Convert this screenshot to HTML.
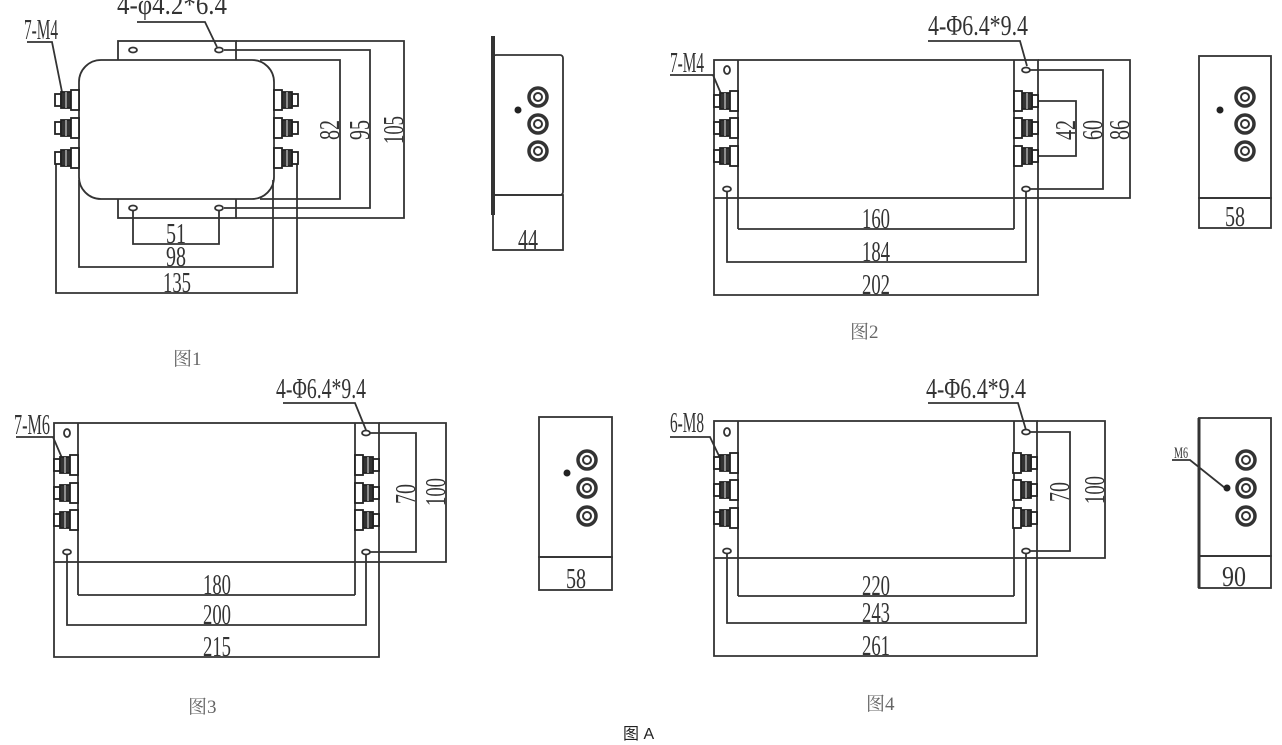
<!DOCTYPE html>
<html><head><meta charset="utf-8"><style>
html,body{margin:0;padding:0;background:#fff}
svg{display:block}
.d{font-family:"Liberation Serif","Noto Serif CJK SC",serif;font-size:28px;fill:#333}
.c{font-family:"Liberation Serif","Noto Serif CJK SC",serif;font-size:19px;fill:#666}
</style></head><body>
<svg width="1282" height="745" viewBox="0 0 1282 745" xmlns="http://www.w3.org/2000/svg">
<defs>
<g id="tl" fill="none" stroke="#222" stroke-width="1.8">
<rect x="0" y="-6" width="6" height="12" fill="#fff"/>
<rect x="6" y="-8" width="10" height="16" fill="#333"/>
<rect x="16" y="-10" width="8" height="20" fill="#fff"/>
<line x1="11" y1="-8" x2="11" y2="8" stroke="#999"/>
</g>
<g id="tr"><use href="#tl" transform="scale(-1,1)"/></g>
<g id="ring"><circle r="9" fill="none" stroke="#333" stroke-width="3.5"/><circle r="4" fill="none" stroke="#333" stroke-width="2"/></g>
</defs>
<g fill="none" stroke="#333" stroke-width="1.8">
<rect x="118" y="41" width="118" height="177" fill="#fff"/>
<rect x="79" y="60" width="195" height="139" rx="22" fill="#fff"/>
<ellipse cx="133" cy="50" rx="4" ry="2.5"/><ellipse cx="219" cy="50" rx="4" ry="2.5"/>
<ellipse cx="133" cy="208" rx="4" ry="2.5"/><ellipse cx="219" cy="208" rx="4" ry="2.5"/>
<path d="M236 41H404V218H236"/>
<path d="M224 50H370V208H224"/>
<path d="M260 60H340V199H260"/>
<path d="M133 210V244H219V210"/>
<path d="M79 180V267H273V180"/>
<path d="M56 160V293H297V160"/>
<path d="M137 22H205L217 47"/>
<path d="M27 42H52L62 92"/>
<rect x="493" y="55" width="70" height="140" rx="3"/>
<rect x="493" y="195" width="70" height="55"/>
<line x1="493" y1="36" x2="493" y2="215" stroke-width="4"/>
<rect x="714" y="60" width="324" height="138"/>
<line x1="738" y1="60" x2="738" y2="229"/><line x1="1014" y1="60" x2="1014" y2="229"/>
<path d="M738 229H1014"/>
<path d="M727 191V262H1026V191"/>
<path d="M714 198V295H1038V198"/>
<path d="M1038 60H1130V198H1038"/>
<path d="M1030 70H1103V189H1030"/>
<path d="M1036 101H1076V156H1036"/>
<ellipse cx="727" cy="70" rx="3" ry="4"/><ellipse cx="1026" cy="70" rx="4" ry="2.5"/>
<ellipse cx="727" cy="189" rx="4" ry="2.5"/><ellipse cx="1026" cy="189" rx="4" ry="2.5"/>
<path d="M928 41H1020L1027 66"/>
<path d="M670 75H713L722 96"/>
<rect x="1199" y="56" width="72" height="142"/>
<rect x="1199" y="198" width="72" height="30"/>
<rect x="54" y="423" width="325" height="139"/>
<line x1="78" y1="423" x2="78" y2="595"/><line x1="355" y1="423" x2="355" y2="595"/>
<path d="M78 595H355"/>
<path d="M67 554V625H366V554"/>
<path d="M54 562V657H379V562"/>
<path d="M379 423H446V562H379"/>
<path d="M370 433H416V552H370"/>
<ellipse cx="67" cy="433" rx="3" ry="4"/><ellipse cx="366" cy="433" rx="4" ry="2.5"/>
<ellipse cx="67" cy="552" rx="4" ry="2.5"/><ellipse cx="366" cy="552" rx="4" ry="2.5"/>
<path d="M283 403H355L366 430"/>
<path d="M16 437H53L62 458"/>
<rect x="539" y="417" width="73" height="140"/>
<rect x="539" y="557" width="73" height="33"/>
<rect x="714" y="421" width="323" height="137"/>
<line x1="738" y1="421" x2="738" y2="596"/><line x1="1014" y1="421" x2="1014" y2="596"/>
<path d="M738 596H1014"/>
<path d="M727 553V623H1026V553"/>
<path d="M714 558V656H1037V558"/>
<path d="M1037 421H1105V558H1037"/>
<path d="M1030 432H1070V551H1030"/>
<ellipse cx="727" cy="432" rx="3" ry="4"/><ellipse cx="1026" cy="432" rx="4" ry="2.5"/>
<ellipse cx="727" cy="551" rx="4" ry="2.5"/><ellipse cx="1026" cy="551" rx="4" ry="2.5"/>
<path d="M928 403H1018L1026 430"/>
<path d="M670 437H710L720 458"/>
<rect x="1199" y="418" width="72" height="138"/>
<rect x="1199" y="556" width="72" height="32"/>
<line x1="1199" y1="418" x2="1199" y2="588" stroke-width="3"/>
<path d="M1172 460H1190L1225 488"/>
</g>
<use href="#tl" x="55" y="100"/><use href="#tl" x="55" y="128"/><use href="#tl" x="55" y="158"/>
<use href="#tr" x="298" y="100"/><use href="#tr" x="298" y="128"/><use href="#tr" x="298" y="158"/>
<use href="#tl" x="714" y="101"/><use href="#tl" x="714" y="128"/><use href="#tl" x="714" y="156"/>
<use href="#tr" x="1038" y="101"/><use href="#tr" x="1038" y="128"/><use href="#tr" x="1038" y="156"/>
<use href="#tl" x="54" y="465"/><use href="#tl" x="54" y="493"/><use href="#tl" x="54" y="520"/>
<use href="#tr" x="379" y="465"/><use href="#tr" x="379" y="493"/><use href="#tr" x="379" y="520"/>
<use href="#tl" x="714" y="463"/><use href="#tl" x="714" y="490"/><use href="#tl" x="714" y="518"/>
<use href="#tr" x="1037" y="463"/><use href="#tr" x="1037" y="490"/><use href="#tr" x="1037" y="518"/>
<use href="#ring" x="538" y="97"/><use href="#ring" x="538" y="124"/><use href="#ring" x="538" y="151"/>
<circle cx="518" cy="110" r="3.5" fill="#222"/>
<use href="#ring" x="1245" y="97"/><use href="#ring" x="1245" y="124"/><use href="#ring" x="1245" y="151"/>
<circle cx="1220" cy="110" r="3.5" fill="#222"/>
<use href="#ring" x="587" y="460"/><use href="#ring" x="587" y="488"/><use href="#ring" x="587" y="516"/>
<circle cx="567" cy="473" r="3.5" fill="#222"/>
<use href="#ring" x="1246" y="460"/><use href="#ring" x="1246" y="488"/><use href="#ring" x="1246" y="516"/>
<circle cx="1227" cy="488" r="3.5" fill="#222"/>
<g class="d">
<text x="117" y="14" textLength="110" lengthAdjust="spacingAndGlyphs">4-φ4.2*6.4</text>
<text x="24" y="39" textLength="34" lengthAdjust="spacingAndGlyphs">7-M4</text>
<text x="166" y="243" textLength="20" lengthAdjust="spacingAndGlyphs">51</text>
<text x="166" y="266" textLength="20" lengthAdjust="spacingAndGlyphs">98</text>
<text x="163" y="292" textLength="28" lengthAdjust="spacingAndGlyphs">135</text>
<text transform="translate(339,140) rotate(-90)" textLength="20" lengthAdjust="spacingAndGlyphs">82</text>
<text transform="translate(369,140) rotate(-90)" textLength="20" lengthAdjust="spacingAndGlyphs">95</text>
<text transform="translate(403,144) rotate(-90)" textLength="28" lengthAdjust="spacingAndGlyphs">105</text>
<text x="518" y="249" textLength="20" lengthAdjust="spacingAndGlyphs">44</text>
<text x="928" y="35" textLength="100" lengthAdjust="spacingAndGlyphs">4-Φ6.4*9.4</text>
<text x="670" y="72" textLength="34" lengthAdjust="spacingAndGlyphs">7-M4</text>
<text x="862" y="228" textLength="28" lengthAdjust="spacingAndGlyphs">160</text>
<text x="862" y="261" textLength="28" lengthAdjust="spacingAndGlyphs">184</text>
<text x="862" y="294" textLength="28" lengthAdjust="spacingAndGlyphs">202</text>
<text transform="translate(1075,140) rotate(-90)" textLength="20" lengthAdjust="spacingAndGlyphs">42</text>
<text transform="translate(1102,140) rotate(-90)" textLength="20" lengthAdjust="spacingAndGlyphs">60</text>
<text transform="translate(1129,140) rotate(-90)" textLength="20" lengthAdjust="spacingAndGlyphs">86</text>
<text x="1225" y="226" textLength="20" lengthAdjust="spacingAndGlyphs">58</text>
<text x="276" y="398" textLength="90" lengthAdjust="spacingAndGlyphs">4-Φ6.4*9.4</text>
<text x="14" y="434" textLength="36" lengthAdjust="spacingAndGlyphs">7-M6</text>
<text x="203" y="594" textLength="28" lengthAdjust="spacingAndGlyphs">180</text>
<text x="203" y="624" textLength="28" lengthAdjust="spacingAndGlyphs">200</text>
<text x="203" y="656" textLength="28" lengthAdjust="spacingAndGlyphs">215</text>
<text transform="translate(415,504) rotate(-90)" textLength="20" lengthAdjust="spacingAndGlyphs">70</text>
<text transform="translate(445,506) rotate(-90)" textLength="28" lengthAdjust="spacingAndGlyphs">100</text>
<text x="566" y="588" textLength="20" lengthAdjust="spacingAndGlyphs">58</text>
<text x="926" y="398" textLength="100" lengthAdjust="spacingAndGlyphs">4-Φ6.4*9.4</text>
<text x="670" y="432" textLength="34" lengthAdjust="spacingAndGlyphs">6-M8</text>
<text x="862" y="595" textLength="28" lengthAdjust="spacingAndGlyphs">220</text>
<text x="862" y="622" textLength="28" lengthAdjust="spacingAndGlyphs">243</text>
<text x="862" y="655" textLength="28" lengthAdjust="spacingAndGlyphs">261</text>
<text transform="translate(1069,502) rotate(-90)" textLength="20" lengthAdjust="spacingAndGlyphs">70</text>
<text transform="translate(1104,504) rotate(-90)" textLength="28" lengthAdjust="spacingAndGlyphs">100</text>
<text x="1222" y="586" textLength="24" lengthAdjust="spacingAndGlyphs">90</text>
<text x="1174" y="458" font-size="16" textLength="14" lengthAdjust="spacingAndGlyphs">M6</text>
</g>
<g class="c">
<text x="173" y="365">图1</text>
<text x="850" y="338">图2</text>
<text x="188" y="713">图3</text>
<text x="866" y="710">图4</text>
</g>
<text x="623" y="739" font-family="Liberation Sans,'Noto Sans CJK SC',sans-serif" font-size="16" fill="#222">图 A</text>
</svg>
</body></html>
